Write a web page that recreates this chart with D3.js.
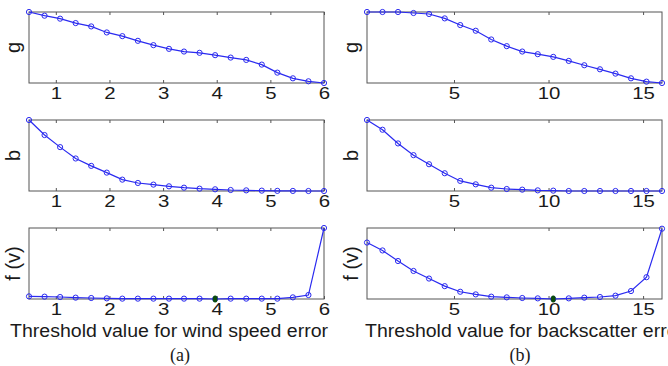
<!DOCTYPE html>
<html>
<head>
<meta charset="utf-8">
<script src="https://cdn.jsdelivr.net/npm/d3@7"></script>
<style>
  body { margin: 0; background: #fff; }
  svg { display: block; }
  .tick line { stroke: #555; }
</style>
</head>
<body>
<div id="chart"></div>
<script>
// Threshold values (x) for each column
const windX = [0.50, 0.79, 1.08, 1.37, 1.66, 1.95, 2.24, 2.53, 2.82, 3.11,
               3.39, 3.68, 3.97, 4.26, 4.55, 4.84, 5.13, 5.42, 5.71, 6.00];
const backX = [0.40, 1.22, 2.04, 2.86, 3.68, 4.51, 5.33, 6.15, 6.97, 7.79,
               8.61, 9.43, 10.25, 11.07, 11.89, 12.72, 13.54, 14.36, 15.18, 16.00];

// Normalised curves
const windG = [1.0, 0.948, 0.906, 0.844, 0.797, 0.712, 0.660, 0.594, 0.533, 0.481,
               0.443, 0.425, 0.392, 0.358, 0.325, 0.259, 0.146, 0.066, 0.024, 0.0];
const windB = [1.0, 0.788, 0.618, 0.458, 0.354, 0.259, 0.160, 0.113, 0.090, 0.066,
               0.047, 0.033, 0.024, 0.014, 0.009, 0.005, 0.002, 0.001, 0.0, 0.0];
const windF = [0.037, 0.033, 0.028, 0.019, 0.014, 0.009, 0.005, 0.005, 0.005, 0.005,
               0.005, 0.005, 0.0, 0.005, 0.005, 0.005, 0.005, 0.023, 0.056, 1.0];

const backG = [1.0, 1.0, 1.0, 0.986, 0.972, 0.910, 0.816, 0.736, 0.613, 0.519,
               0.443, 0.406, 0.368, 0.311, 0.250, 0.193, 0.132, 0.066, 0.019, 0.0];
const backB = [1.0, 0.863, 0.670, 0.505, 0.377, 0.250, 0.142, 0.094, 0.047, 0.028,
               0.019, 0.009, 0.005, 0.0, 0.0, 0.0, 0.0, 0.0, 0.0, 0.0];
const backF = [0.795, 0.684, 0.535, 0.395, 0.288, 0.181, 0.102, 0.065, 0.033, 0.023,
               0.014, 0.009, 0.0, 0.009, 0.019, 0.028, 0.047, 0.112, 0.307, 0.99];

// Index of the optimum (green marker) on each f curve
const bestIndex = [12, 12];

const windTicks = [1, 2, 3, 4, 5, 6];
const backTicks = [5, 10, 15];
const rowLabels = ["g", "b", "f (v)"];
const xLabels = ["Threshold value for wind speed error", "Threshold value for backscatter error"];
const captions = ["(a)", "(b)"];

// Layout
const WIDTH = 668;
const HEIGHT = 366;
const colX = [29, 367];
const rowY = [12, 120, 228];
const PW = 295;
const PH = 71;
const LINE = "#2a2af0";
const SANS = "Liberation Sans, Arial, Helvetica, sans-serif";

const svg = d3.select("#chart")
  .append("svg")
  .attr("width", WIDTH)
  .attr("height", HEIGHT);

const columns = [
  { x: windX, series: [windG, windB, windF], ticks: windTicks, domain: [0.5, 6] },
  { x: backX, series: [backG, backB, backF], ticks: backTicks, domain: [0.4, 16] }
];

columns.forEach((col, c) => {
  const x = d3.scaleLinear().domain(col.domain).range([0, PW]);
  const y = d3.scaleLinear().domain([0, 1]).range([PH, 0]);

  col.series.forEach((vals, r) => {
    const g = svg.append("g")
      .attr("transform", `translate(${colX[c]},${rowY[r]})`);

    // box
    g.append("rect")
      .attr("width", PW)
      .attr("height", PH)
      .attr("fill", "none")
      .attr("stroke", "#555")
      .attr("stroke-width", 1);

    // inward ticks, bottom with labels, top without
    const bottom = g.append("g")
      .attr("transform", `translate(0,${PH})`)
      .call(d3.axisBottom(x).tickValues(col.ticks).tickSize(-3).tickPadding(4).tickFormat(d3.format("d")));
    bottom.select(".domain").remove();
    bottom.attr("font-family", SANS).attr("font-size", 17);
    bottom.selectAll(".tick text")
      .attr("fill", "#1a1a1a")
      .attr("transform", "scale(1.2,1)");

    const top = g.append("g")
      .call(d3.axisTop(x).tickValues(col.ticks).tickSize(-3).tickFormat(""));
    top.select(".domain").remove();

    // y label
    g.append("text")
      .attr("transform", `translate(-9,${PH / 2}) rotate(-90)`)
      .attr("text-anchor", "middle")
      .attr("font-family", SANS)
      .attr("font-size", 20)
      .attr("fill", "#1a1a1a")
      .text(rowLabels[r]);

    const pts = vals.map((v, i) => [col.x[i], v]);

    g.append("path")
      .datum(pts)
      .attr("fill", "none")
      .attr("stroke", LINE)
      .attr("stroke-width", 1.2)
      .attr("d", d3.line().x(d => x(d[0])).y(d => y(d[1])));

    g.selectAll("circle.pt")
      .data(pts)
      .enter()
      .append("circle")
      .attr("class", "pt")
      .attr("cx", d => x(d[0]))
      .attr("cy", d => y(d[1]))
      .attr("r", 2.6)
      .attr("fill", "none")
      .attr("stroke", LINE)
      .attr("stroke-width", 1);

    if (r === 2) {
      const b = pts[bestIndex[c]];
      g.append("ellipse")
        .attr("cx", x(b[0]))
        .attr("cy", y(b[1]))
        .attr("rx", 2.4)
        .attr("ry", 3.6)
        .attr("fill", "#0b4d0b");

      // x label
      g.append("text")
        .attr("x", c === 0 ? -19 : -2)
        .attr("y", 337 - rowY[r])
        .attr("textLength", c === 0 ? 318 : 319)
        .attr("lengthAdjust", "spacingAndGlyphs")
        .attr("font-family", SANS)
        .attr("font-size", 17.5)
        .attr("fill", "#1a1a1a")
        .text(xLabels[c]);
    }
  });

  // caption
  svg.append("text")
    .attr("x", c === 0 ? 180 : 520)
    .attr("y", 361)
    .attr("text-anchor", "middle")
    .attr("font-family", "Liberation Serif, Times New Roman, serif")
    .attr("font-size", 18)
    .attr("fill", "#1a1a1a")
    .text(captions[c]);
});
</script>
</body>
</html>
